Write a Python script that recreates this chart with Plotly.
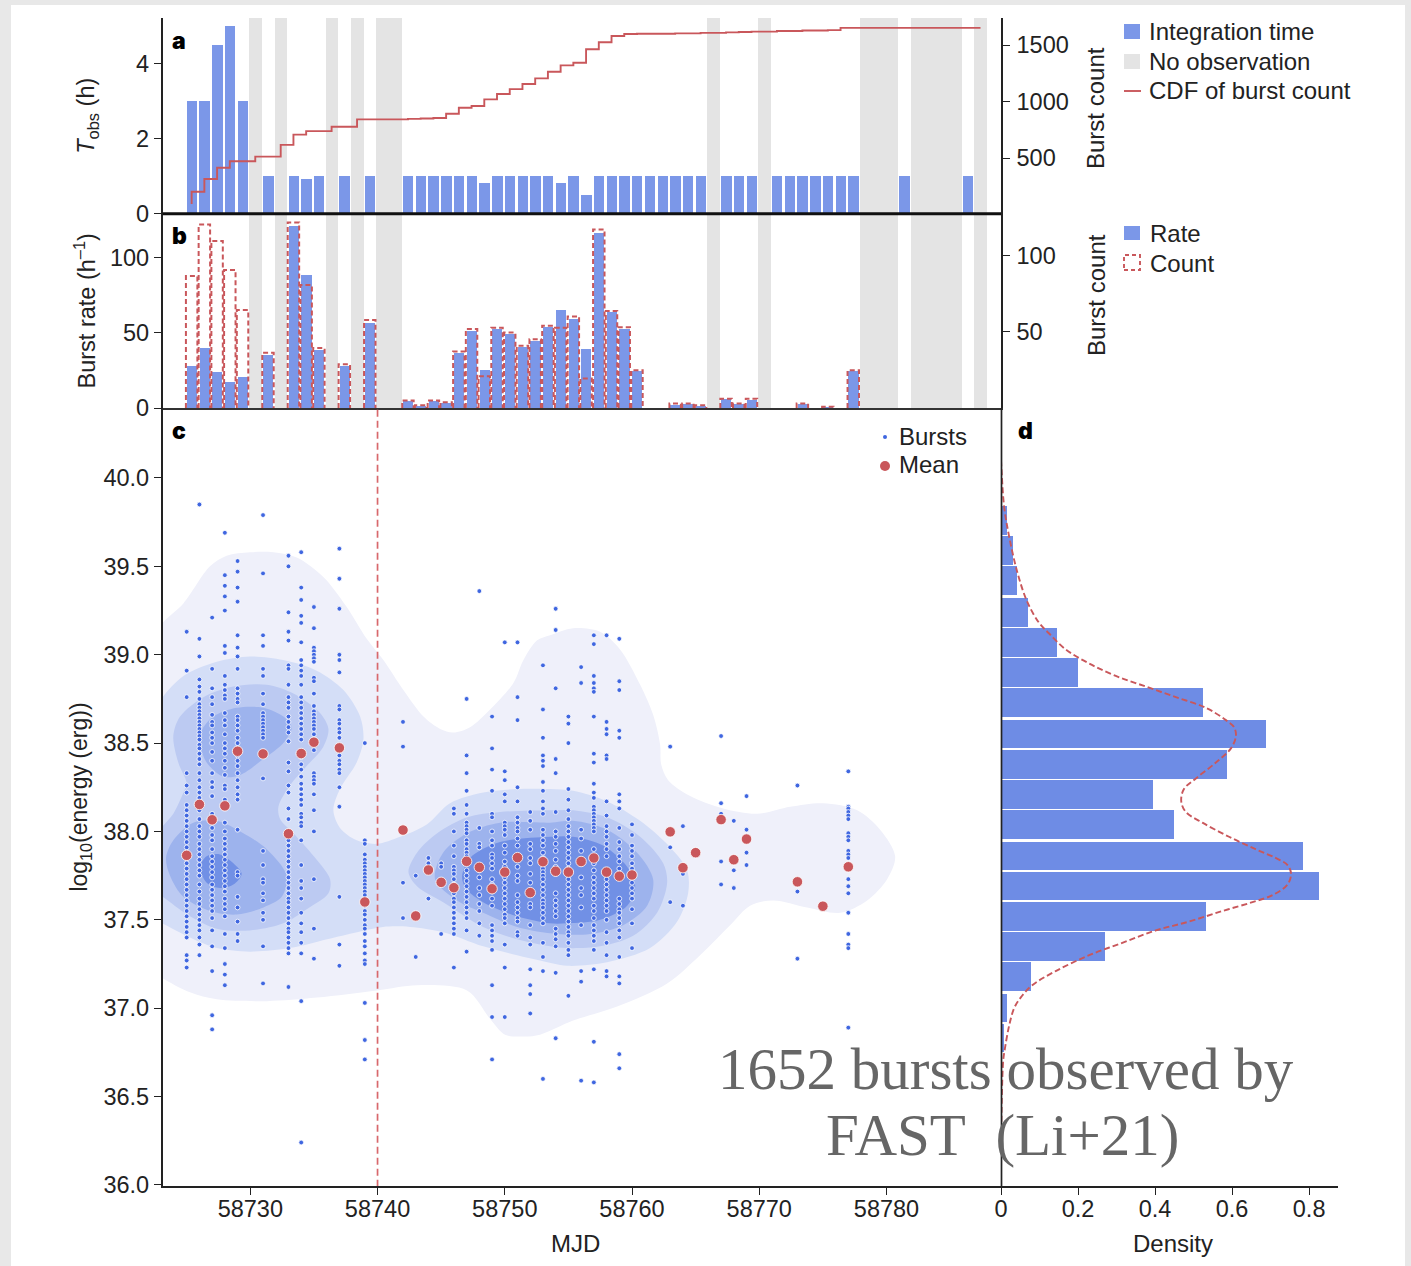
import plotly.graph_objects as go

W, H = 1411, 1266
MJD0 = 58700
FONT = "Liberation Sans"
BLUE = "#7b97e8"
HBLUE = "#6e8ce5"
GREY = "#e4e4e4"
RED = "#c9575b"
DOT = "#3f66e0"
INK = "#222222"

# --- panel a ---
obs_days = [25,26,27,28,29,31,33,34,35,37,39,42,43,44,45,46,47,48,49,50,51,52,53,54,55,56,57,58,59,60,61,62,63,64,65,67,68,69,71,72,73,74,75,76,77,81,86]
obs_hours = [3,3,4.5,5,3,1,1,0.93,1,1,1,1,1,1,1,1,1,0.81,1,1,1,1,1,0.81,1,0.5,1,1,1,1,1,1,1,1,1,1,1,1,1,1,1,1,1,1,1,1,1]
gap_days = [30,32,36,38,40,41,66,70,78,79,80,82,83,84,85,87]
cdf_days = [25,25,26,27,28,30,32,33,34,36,38,42,43,44,45,46,47,48,49,50,51,52,53,54,55,56,57,58,59,60,63,65,67,68,69,71,73,75,76,87]
cdf_count = [93,202,314,414,471,512,616,707,738,777,842,846,850,854,892,945,960,1019,1066,1110,1155,1205,1263,1320,1343,1462,1524,1580,1598,1600,1603,1607,1612,1615,1618,1624,1628,1632,1652,1652]

# --- panel b ---
rate_days = [25,26,27,28,29,31,33,34,35,37,39,42,43,44,45,46,47,48,49,50,51,52,53,54,55,56,57,58,59,60,63,64,65,67,68,69,73,75,77]
rate_values = [28.4,40,24.4,17.5,21,35.5,121,89,39,28.4,57,4.7,1.8,4.7,3.5,36.7,51.8,25.8,52.7,49.5,40.7,45,54,65.5,59.5,39.8,117,64,53,25,2.5,2.8,1.6,6,3.2,5.4,2.8,0.5,25]
count_values = [86.6,120.4,109.6,90.6,64.3,36.2,121.7,80.7,39.3,28.7,57.7,5,1.8,5,3.7,37.1,51.8,20.8,52.6,49.5,40.8,45.1,54,52.6,60.1,19.4,117.1,63.7,53,24.8,2.9,2.9,1.8,6.1,2.9,6.1,2.9,0.9,24.8]

# --- panel c: means ---
mean_days = [25,26,27,28,29,31,33,34,35,37,39,42,43,44,45,46,47,48,49,50,51,52,53,54,55,56,57,58,59,60,63,64,65,67,68,69,73,75,77]
mean_energy = [37.865,38.153,38.066,38.145,38.454,38.439,37.987,38.441,38.505,38.473,37.601,38.008,37.522,37.782,37.712,37.682,37.831,37.797,37.676,37.77,37.852,37.654,37.829,37.775,37.77,37.83,37.85,37.77,37.747,37.754,37.998,37.795,37.88,38.067,37.84,37.957,37.715,37.577,37.8]

# --- panel c: bursts, per day ---
burst_days = [25,26,27,28,29,31,33,34,35,37,39,42,43,44,45,46,47,48,49,50,51,52,53,54,55,56,57,58,59,60,63,64,67,68,69,73,77]
burst_energy = [
 [39.13,38.91,38.76,38.33,38.26,38.22,38.15,38.12,38.09,38.06,38.03,38.0,37.97,37.94,37.91,37.88,37.85,37.82,37.79,37.76,37.73,37.7,37.67,37.64,37.61,37.58,37.55,37.52,37.49,37.46,37.43,37.4,37.3,37.27,37.23],
 [39.85,39.09,38.99,38.86,38.82,38.79,38.75,38.72,38.7,38.68,38.66,38.64,38.62,38.6,38.58,38.56,38.54,38.52,38.49,38.47,38.44,38.41,38.38,38.33,38.29,38.25,38.22,38.19,38.15,38.12,38.07,38.03,38.0,37.97,37.93,37.9,37.87,37.84,37.81,37.78,37.75,37.7,37.66,37.62,37.59,37.56,37.53,37.5,37.47,37.44,37.4,37.36,37.3],
 [39.21,38.92,38.81,38.76,38.72,38.66,38.62,38.6,38.56,38.53,38.5,38.45,38.4,38.33,38.28,38.25,38.2,38.1,38.06,38.02,37.98,37.95,37.9,37.86,37.83,37.8,37.77,37.74,37.7,37.67,37.64,37.61,37.58,37.55,37.51,37.44,37.35,37.21,36.96,36.88],
 [39.69,39.45,39.39,39.33,39.25,39.05,39.01,38.88,38.83,38.8,38.77,38.75,38.67,38.63,38.6,38.55,38.5,38.47,38.44,38.4,38.36,38.32,38.26,38.24,38.18,38.05,38.0,37.96,37.93,37.9,37.87,37.84,37.81,37.78,37.75,37.72,37.69,37.66,37.62,37.59,37.56,37.52,37.42,37.34,37.25,37.19,37.13],
 [39.53,39.47,39.38,39.3,39.11,39.04,38.99,38.92,38.81,38.78,38.75,38.73,38.65,38.63,38.6,38.57,38.53,38.5,38.47,38.43,38.4,38.37,38.33,38.29,38.25,38.21,38.18,38.01,37.77,37.75,37.63,37.57,37.49,37.42,37.38],
 [39.79,39.46,39.11,39.05,38.92,38.88,38.78,38.72,38.67,38.65,38.63,38.61,38.59,38.57,38.55,38.53,38.3,37.89,37.81,37.73,37.71,37.65,37.61,37.54,37.5,37.35,37.14],
 [39.56,39.5,39.24,39.13,39.08,38.94,38.92,38.83,38.76,38.73,38.7,38.65,38.62,38.59,38.56,38.51,38.39,38.34,38.26,38.22,38.13,38.07,38.0,37.97,37.95,37.92,37.89,37.86,37.83,37.8,37.77,37.74,37.71,37.68,37.65,37.62,37.6,37.57,37.54,37.51,37.48,37.45,37.43,37.4,37.37,37.34,37.31,37.12],
 [39.58,39.38,39.31,39.22,39.18,39.07,38.97,38.94,38.91,38.88,38.83,38.76,38.73,38.7,38.67,38.64,38.61,38.58,38.55,38.52,38.45,38.42,38.38,38.35,38.31,38.27,38.24,38.21,38.18,38.15,38.1,38.08,38.05,38.03,37.95,37.81,37.72,37.68,37.62,37.54,37.48,37.43,37.37,37.31,37.04,36.24],
 [39.27,39.15,39.04,39.02,39.0,38.98,38.96,38.87,38.85,38.78,38.71,38.68,38.66,38.64,38.62,38.6,38.58,38.55,38.46,38.33,38.31,38.29,38.27,38.21,38.12,38.0,37.73,37.45,37.28],
 [39.6,39.43,39.26,39.0,38.97,38.9,38.71,38.69,38.63,38.61,38.58,38.56,38.53,38.43,38.4,38.38,38.35,38.33,38.25,38.14,37.63,37.36,37.24],
 [38.5,37.95,37.93,37.87,37.84,37.82,37.8,37.78,37.76,37.74,37.72,37.7,37.68,37.66,37.64,37.6,37.58,37.55,37.53,37.5,37.47,37.45,37.42,37.38,37.35,37.31,37.27,37.25,37.03,36.82,36.71],
 [38.62,38.48,37.71,37.51],
 [37.75,37.29],
 [37.85,37.82,37.77,37.62],
 [37.82,37.8,37.42],
 [38.13,38.1,38.0,37.92,37.86,37.8,37.78,37.76,37.73,37.7,37.68,37.65,37.62,37.6,37.57,37.54,37.51,37.48,37.45,37.42,37.23],
 [38.75,38.43,38.33,38.23,38.15,38.1,38.05,38.03,38.01,37.99,37.95,37.93,37.9,37.88,37.86,37.78,37.75,37.72,37.69,37.66,37.63,37.6,37.57,37.54,37.51,37.44,37.32],
 [39.36,38.02,37.93,37.91,37.78,37.74,37.68,37.64,37.59,37.55,37.48,37.41],
 [38.65,38.47,38.35,38.23,38.1,38.08,38.0,37.95,37.92,37.87,37.85,37.82,37.79,37.73,37.7,37.66,37.62,37.58,37.47,37.44,37.41,37.38,37.33,37.13,36.95,36.71],
 [39.07,38.34,38.29,38.21,38.17,38.05,38.03,38.01,37.98,37.92,37.88,37.83,37.8,37.77,37.74,37.71,37.68,37.65,37.62,37.59,37.56,37.53,37.51,37.48,37.36,37.23,36.95],
 [39.07,38.76,38.63,38.25,38.17,38.08,38.05,38.02,38.0,37.96,37.92,37.8,37.75,37.72,37.64,37.6,37.57,37.54,37.51,37.49,37.43,37.41],
 [38.11,38.06,38.01,37.93,37.9,37.85,37.82,37.76,37.71,37.59,37.57,37.47,37.4,37.36,37.22,37.13,37.08,36.97],
 [38.94,38.69,38.53,38.43,38.4,38.37,38.28,38.23,38.17,38.13,38.1,38.01,37.98,37.95,37.92,37.88,37.85,37.82,37.79,37.77,37.75,37.73,37.7,37.67,37.64,37.61,37.59,37.57,37.54,37.51,37.48,37.37,37.29,37.21,36.6],
 [39.26,39.14,38.81,38.41,38.33,38.11,38.0,37.97,37.93,37.89,37.84,37.8,37.76,37.65,37.61,37.58,37.55,37.52,37.45,37.42,37.39,37.35,37.2,36.83],
 [38.65,38.61,38.5,38.24,38.18,38.12,38.07,38.03,38.0,37.97,37.94,37.91,37.88,37.85,37.82,37.79,37.76,37.73,37.7,37.67,37.64,37.61,37.58,37.55,37.52,37.49,37.46,37.43,37.41,37.37,37.33,37.3,37.07],
 [38.93,38.84,38.01,37.96,37.89,37.83,37.74,37.68,37.64,37.57,37.47,37.21,37.15,36.59],
 [39.11,39.06,38.88,38.84,38.81,38.79,38.65,38.44,38.39,38.27,38.22,38.19,38.14,38.12,38.1,38.08,38.06,38.04,38.02,38.0,37.9,37.86,37.82,37.78,37.74,37.71,37.68,37.65,37.62,37.58,37.55,37.51,37.47,37.44,37.41,37.38,37.33,37.22,36.81,36.58],
 [39.11,38.62,38.58,38.55,38.43,38.41,38.17,38.09,38.03,38.0,37.97,37.93,37.9,37.86,37.73,37.7,37.67,37.64,37.61,37.58,37.55,37.5,37.43,37.37,37.3,37.21,37.18],
 [39.09,38.85,38.8,38.57,38.53,38.21,38.17,38.13,38.02,37.94,37.9,37.86,37.83,37.79,37.75,37.62,37.59,37.56,37.54,37.51,37.48,37.44,37.4,37.29,37.18,37.14,36.74,36.66],
 [38.04,37.98,37.92,37.89,37.86,37.82,37.79,37.76,37.71,37.68,37.65,37.62,37.56,37.48,37.34],
 [38.48,37.91,37.6],
 [38.03,37.76,37.58],
 [38.54,38.16,38.1,37.83,37.7],
 [38.06,37.78,37.68],
 [38.2,38.01,37.88,37.81],
 [38.26,37.66,37.28],
 [38.34,38.14,38.13,38.11,38.09,38.07,37.99,37.97,37.95,37.89,37.87,37.85,37.73,37.69,37.65,37.54,37.42,37.36,37.34,36.89],
]

# --- panel c: density contours (day, log energy) ---
lvl1_d = [22.5,23.11,24.74,26.83,28.14,29.98,31.81,33.65,35.74,37.58,39.15,40.46,42.03,43.61,44.92,45.96,47.27,48.85,50.68,51.47,52.52,53.56,55.37,57.49,59.06,60.64,61.66,62.21,62.29,62.84,64.57,67.16,69.84,72.43,75.02,77.7,79.5,80.68,80.05,78.48,76.36,73.76,71.09,69.28,67.71,65.35,62.76,58.83,55.37,52.77,51.59,50.02,48.84,47.03,43.1,39.96,35.24,31.31,27.38,25.26,23.11,22.5]
lvl1_e = [39.1,39.18,39.29,39.5,39.56,39.58,39.58,39.55,39.44,39.27,39.09,38.97,38.8,38.65,38.58,38.56,38.59,38.69,38.84,38.97,39.08,39.11,39.15,39.13,39.03,38.83,38.66,38.49,38.38,38.29,38.2,38.13,38.1,38.14,38.16,38.12,38.01,37.86,37.73,37.61,37.54,37.57,37.61,37.58,37.47,37.3,37.14,37.01,36.93,36.85,36.84,36.85,36.94,37.1,37.13,37.1,37.06,37.04,37.05,37.09,37.17,37.2]
lvl2_d = [22.5,23.11,24.74,27.36,29.98,32.6,35.22,37.32,38.63,38.89,38.36,37.05,36.53,37.05,38.36,39.94,41.77,43.87,45.7,48.32,50.94,53.56,55.37,58.04,60.64,63.0,64.33,64.41,63.55,61.42,58.04,54.9,52.77,50.97,48.3,45.16,42.56,40.43,38.39,36.03,33.12,29.98,27.38,25.26,23.06,22.5]
lvl2_e = [38.68,38.76,38.88,38.96,38.99,38.97,38.91,38.8,38.65,38.52,38.39,38.24,38.12,38.02,37.95,37.93,37.97,38.04,38.16,38.22,38.24,38.24,38.23,38.17,38.06,37.91,37.78,37.65,37.49,37.34,37.26,37.24,37.27,37.3,37.35,37.43,37.46,37.46,37.43,37.39,37.34,37.32,37.34,37.4,37.48,37.5]
lvl3a_d = [23.95,24.48,26.31,28.67,31.29,33.39,35.48,36.14,35.74,34.43,33.12,32.21,32.34,33.39,35.22,36.27,36.14,34.43,32.6,29.98,27.36,25.26,23.11,22.5,22.5,23.11,23.95,24.74,25.0,24.34]
lvl3a_e = [38.54,38.65,38.76,38.82,38.83,38.78,38.67,38.58,38.48,38.37,38.26,38.14,38.07,37.99,37.84,37.73,37.65,37.56,37.48,37.44,37.45,37.52,37.63,37.66,37.98,38.03,38.1,38.22,38.27,38.39]
lvl3b_d = [42.43,43.1,44.69,47.06,49.63,53.56,55.37,58.04,60.64,62.45,62.76,61.97,60.09,57.49,54.9,53.56,50.97,48.3,45.16,43.1]
lvl3b_e = [37.77,37.88,37.99,38.08,38.11,38.12,38.12,38.08,37.97,37.82,37.71,37.54,37.41,37.35,37.34,37.35,37.39,37.46,37.6,37.69]
lvl4a_d = [26.1,27.1,28.93,31.03,32.6,33.25,32.6,31.03,29.19,27.88,26.57,26.1]
lvl4a_e = [38.56,38.65,38.7,38.7,38.65,38.59,38.5,38.41,38.32,38.31,38.39,38.48]
lvl4b_d = [23.38,23.95,25.52,27.36,29.45,31.29,32.86,32.47,31.03,28.93,26.83,24.74,23.69]
lvl4b_e = [37.85,37.95,38.05,38.06,37.99,37.9,37.75,37.63,37.57,37.53,37.55,37.63,37.75]
lvl4c_d = [44.52,45.15,47.04,49.63,53.56,55.37,58.04,60.4,61.66,61.19,59.3,56.71,54.11,50.97,48.3,46.25]
lvl4c_e = [37.73,37.88,37.99,38.05,38.05,38.06,38.01,37.88,37.73,37.58,37.47,37.42,37.42,37.46,37.54,37.61]
lvl5a_d = [26.05,26.57,27.62,28.67,29.32,28.67,27.62,26.57]
lvl5a_e = [37.8,37.86,37.87,37.82,37.76,37.7,37.68,37.71]
lvl5b_d = [46.64,47.27,49.63,53.56,55.37,57.73,59.62,60.25,59.62,57.49,54.9,53.56,50.97,48.3,47.03]
lvl5b_e = [37.74,37.85,37.94,37.97,37.97,37.92,37.8,37.69,37.58,37.5,37.48,37.48,37.52,37.6,37.67]

# --- panel d ---
hist_energy = [39.76,39.59,39.42,39.24,39.07,38.9,38.73,38.55,38.38,38.21,38.04,37.86,37.69,37.52,37.35,37.18,37.0,36.83]
hist_density = [0.0165,0.031,0.042,0.07,0.146,0.2,0.525,0.687,0.586,0.394,0.449,0.783,0.826,0.532,0.27,0.077,0.016,0.008]
kde_density = [0,0.001,0.008,0.021,0.042,0.068,0.099,0.125,0.168,0.229,0.298,0.376,0.454,0.532,0.584,0.605,0.61,0.597,0.558,0.506,0.475,0.468,0.48,0.523,0.592,0.661,0.713,0.744,0.753,0.744,0.705,0.653,0.575,0.488,0.402,0.315,0.229,0.142,0.081,0.051,0.034,0.021,0.01,0.006,0.002,0]
kde_energy = [40.1,40.06,39.84,39.67,39.47,39.3,39.18,39.12,39.03,38.95,38.88,38.82,38.76,38.7,38.63,38.59,38.54,38.47,38.39,38.3,38.24,38.17,38.11,38.05,37.97,37.9,37.85,37.81,37.76,37.7,37.64,37.6,37.55,37.49,37.44,37.37,37.3,37.21,37.13,37.06,37.0,36.9,36.77,36.71,36.48,36.0]

x_ticks_mjd = [58730,58740,58750,58760,58770,58780]
y_ticks_energy = [36.0,36.5,37.0,37.5,38.0,38.5,39.0,39.5,40.0]
density_ticks = [0,0.2,0.4,0.6,0.8]
density_labels = ["0","0.2","0.4","0.6","0.8"]

# geometry helpers
def fx(p): return p / W
def fy(p): return 1 - p / H
PL, PR, PD = 162.7, 1001, 1338
T_A, B_A, B_B, B_C = 18, 213.5, 408, 1186

def mjd(v): return [MJD0 + d for d in v]

fig = go.Figure()

# a
fig.add_trace(go.Bar(x=mjd(gap_days), y=[5.21]*len(gap_days), width=1.0, marker=dict(color=GREY, line=dict(width=0)), name="No observation", xaxis="x", yaxis="y"))
fig.add_trace(go.Bar(x=mjd(obs_days), y=obs_hours, width=0.82, marker=dict(color=BLUE, line=dict(width=0)), name="Integration time", xaxis="x", yaxis="y"))
fig.add_trace(go.Scatter(x=mjd(cdf_days), y=cdf_count, mode="lines", line=dict(color=RED, width=1.9, shape="hv"), name="CDF of burst count", xaxis="x", yaxis="y2"))
# b
fig.add_trace(go.Bar(x=mjd(gap_days), y=[129.4]*len(gap_days), width=1.0, marker=dict(color=GREY, line=dict(width=0)), name="No observation", xaxis="x2", yaxis="y3"))
fig.add_trace(go.Bar(x=mjd(rate_days), y=rate_values, width=0.8, marker=dict(color=BLUE, line=dict(width=0)), name="Rate", xaxis="x2", yaxis="y3"))
cx, cy = [], []
for d, c in zip(rate_days, count_values):
    cx += [MJD0 + d - 0.45, MJD0 + d - 0.45, MJD0 + d + 0.45, MJD0 + d + 0.45, None]
    cy += [0, c, c, 0, None]
fig.add_trace(go.Scatter(x=cx, y=cy, mode="lines", line=dict(color=RED, width=2, dash="5px,3px"), name="Count", xaxis="x2", yaxis="y4"))
# c: density contours
levels = [
    ("#eff0fa", [(lvl1_d, lvl1_e)]),
    ("#d4def7", [(lvl2_d, lvl2_e)]),
    ("#bccaf2", [(lvl3a_d, lvl3a_e), (lvl3b_d, lvl3b_e)]),
    ("#9db3ed", [(lvl4a_d, lvl4a_e), (lvl4b_d, lvl4b_e), (lvl4c_d, lvl4c_e)]),
    ("#7190e5", [(lvl5a_d, lvl5a_e), (lvl5b_d, lvl5b_e)]),
]
for col, polys in levels:
    for dd, ee in polys:
        fig.add_trace(go.Scatter(x=mjd(dd + dd[:1]), y=ee + ee[:1], mode="lines", fill="toself", fillcolor=col,
                                 line=dict(width=0, shape="spline", smoothing=0.9, color=col), name="Density", xaxis="x3", yaxis="y5"))
bx, by = [], []
for d, es in zip(burst_days, burst_energy):
    bx += [MJD0 + d] * len(es)
    by += es
fig.add_trace(go.Scatter(x=bx, y=by, mode="markers", marker=dict(color=DOT, size=4.8, line=dict(color="white", width=0.8)), name="Bursts", xaxis="x3", yaxis="y5"))
fig.add_trace(go.Scatter(x=[58740, 58740], y=[35.99, 40.4], mode="lines", line=dict(color="#d8686c", width=1.7, dash="7px,4px"), name="Boundary", xaxis="x3", yaxis="y5"))
fig.add_trace(go.Scatter(x=mjd(mean_days), y=mean_energy, mode="markers", marker=dict(color=RED, size=10.5, line=dict(color="white", width=0.8)), name="Mean", xaxis="x3", yaxis="y5"))
# d
fig.add_trace(go.Bar(y=hist_energy, x=hist_density, orientation="h", width=0.161, marker=dict(color=HBLUE, line=dict(width=0)), name="Histogram", xaxis="x4", yaxis="y6"))
fig.add_trace(go.Scatter(x=kde_density, y=kde_energy, mode="lines", line=dict(color=RED, width=1.9, dash="6px,3px", shape="spline"), name="KDE", xaxis="x4", yaxis="y6"))

TICK = dict(family=FONT, size=23.5, color=INK)
TITLE = dict(family=FONT, size=23.5, color=INK)
LINE = dict(showline=True, linecolor=INK, linewidth=1.6, ticks="outside", ticklen=7, tickwidth=1.3, tickcolor=INK, showgrid=False, zeroline=False, tickfont=TICK, automargin=False)
XR_C = [58723.115, 58789.0]
XR_AB = [58723.115 - 0.39, 58789.0 - 0.39]

fig.update_layout(
    width=W, height=H, autosize=False, margin=dict(l=0, r=0, t=0, b=0, autoexpand=False),
    paper_bgcolor="#e8e8e8", plot_bgcolor="rgba(0,0,0,0)", showlegend=False, barmode="overlay", bargap=0,
    font=dict(family=FONT, size=22, color=INK), hovermode=False,
    xaxis=dict(domain=[fx(PL), fx(PR)], range=XR_AB, anchor="y", showline=False, showticklabels=False, ticks="", showgrid=False, zeroline=False, automargin=False),
    yaxis=dict(domain=[fy(B_A), fy(T_A)], range=[0, 5.21], tickvals=[0, 2, 4], anchor="x",
               title=dict(text="<i>T</i><sub>obs</sub> (h)", font=TITLE, standoff=35), **LINE),
    yaxis2=dict(domain=[fy(B_A), fy(T_A)], range=[9, 1739], tickvals=[500, 1000, 1500], overlaying="y", side="right", anchor="x", ticklabelstandoff=2, **LINE),
    xaxis2=dict(domain=[fx(PL), fx(PR)], range=XR_AB, anchor="y3", showline=True, linecolor="#333333", linewidth=1.6, showticklabels=False, ticks="", showgrid=False, zeroline=False, automargin=False),
    yaxis3=dict(domain=[fy(B_B), fy(B_A)], range=[0, 129.3], tickvals=[0, 50, 100], anchor="x2",
                title=dict(text="Burst rate (h<sup>–1</sup>)", font=TITLE, standoff=8), **LINE),
    yaxis4=dict(domain=[fy(B_B), fy(B_A)], range=[0, 127.6], tickvals=[50, 100], overlaying="y3", side="right", anchor="x2", ticklabelstandoff=2, **LINE),
    xaxis3=dict(domain=[fx(PL), fx(PR)], range=XR_C, anchor="y5", tickvals=x_ticks_mjd, tickformat="d", ticklabelstandoff=-6, **LINE),
    yaxis5=dict(domain=[fy(B_C), fy(B_B)], range=[35.994, 40.396], tickvals=y_ticks_energy, tickformat=".1f", anchor="x3",
                title=dict(text="log<sub>10</sub>(energy (erg))", font=dict(family=FONT, size=23, color=INK), standoff=9), **LINE),
    xaxis4=dict(domain=[fx(PR), fx(PD)], range=[0, 0.875], anchor="y6", tickvals=density_ticks, ticktext=density_labels, ticklabelstandoff=-6, **LINE),
    yaxis6=dict(domain=[fy(B_C), fy(B_B)], range=[35.994, 40.396], anchor="x4", showline=False,
                showticklabels=False, ticks="", showgrid=False, zeroline=False, automargin=False),
)

# page frame, legends' swatches, and the two rules that sit on top of the bars
shapes = [dict(type="rect", xref="paper", yref="paper", x0=fx(11), x1=fx(1405), y0=0, y1=fy(5), fillcolor="white", line=dict(width=0), layer="below")]
def swatch(x0, y0, x1, y1, **kw):
    shapes.append(dict(type="rect", xref="paper", yref="paper", x0=fx(x0), x1=fx(x1), y0=fy(y1), y1=fy(y0), **kw))
def rule(x0, y0, x1, y1, color=INK, width=1.7):
    shapes.append(dict(type="line", xref="paper", yref="paper", x0=fx(x0), x1=fx(x1), y0=fy(y0), y1=fy(y1), line=dict(color=color, width=width)))
rule(PL, 213.7, PR, 213.7, "#111111", 3)
rule(PR + 0.5, 408, PR + 0.5, 1186, INK, 1.7)
swatch(1124, 24, 1140, 39, fillcolor=BLUE, line=dict(width=0))
swatch(1124, 54, 1140, 69, fillcolor=GREY, line=dict(width=0))
rule(1124, 91, 1141, 91, RED, 1.9)
swatch(1124, 226, 1140, 240, fillcolor=BLUE, line=dict(width=0))
swatch(1124, 255, 1140, 270, fillcolor="rgba(0,0,0,0)", line=dict(color=RED, width=1.9, dash="4px,3px"))
shapes.append(dict(type="circle", xref="paper", yref="paper", x0=fx(883), x1=fx(887), y0=fy(439), y1=fy(435), fillcolor=DOT, line=dict(width=0)))
shapes.append(dict(type="circle", xref="paper", yref="paper", x0=fx(880), x1=fx(890), y0=fy(471), y1=fy(461), fillcolor=RED, line=dict(width=0)))
fig.update_layout(shapes=shapes)

def note(px, py, text, size=24, color=INK, anchor="left", family=FONT, angle=0, weight=None):
    f = dict(family=family, size=size, color=color)
    if weight:
        f["weight"] = weight
    fig.add_annotation(xref="paper", yref="paper", x=fx(px), y=fy(py), text=text, showarrow=False, xanchor=anchor, yanchor="middle",
                       font=f, align="center", textangle=angle)
note(1146.5, 31, "Integration time")
note(1146.5, 62, "No observation")
note(1146.5, 91, "CDF of burst count")
note(1147.5, 233, "Rate")
note(1147.5, 263, "Count")
note(897, 436, "Bursts")
note(897, 465, "Mean")
note(1096, 108, "Burst count", anchor="center", angle=-90)
note(1096, 295, "Burst count", anchor="center", angle=-90)
note(575, 1243, "MJD", anchor="center")
note(1173, 1243, "Density", anchor="center")
for px, py, t in [(170, 41, "a"), (170, 236, "b"), (170, 431, "c"), (1016, 431, "d")]:
    note(px, py, t, size=23, color="#000000", family="Inter", weight=900)
note(1006, 1069, "1652 bursts observed by", size=59, color="#666666", anchor="center", family="Liberation Serif")
note(1003, 1135, "FAST&#160;&#160;(Li+21)", size=59, color="#666666", anchor="center", family="Liberation Serif")

fig.write_html("out.html", config=dict(displayModeBar=False), post_script="document.body.style.margin='0';")
